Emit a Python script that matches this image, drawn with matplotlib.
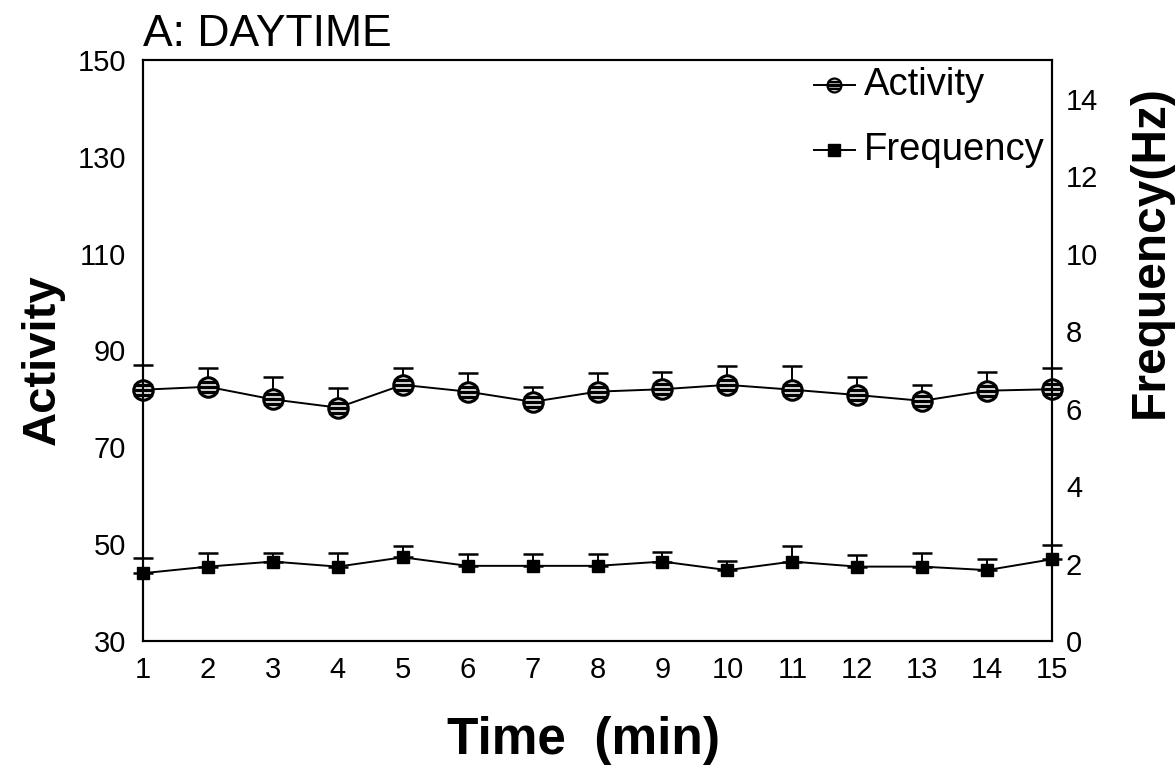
import numpy as np
import matplotlib
matplotlib.use("Agg")
import matplotlib.pyplot as plt

plt.rcParams['font.family'] = ['Liberation Sans', 'DejaVu Sans']

minutes = list(range(1, 16))
activity = [81.9, 82.5, 79.9, 78.2, 82.9, 81.5, 79.4, 81.5, 82.0, 82.9, 81.9, 80.8, 79.6, 81.7, 82.0]
activity_se = [5.1, 3.8, 4.7, 4.0, 3.4, 3.8, 3.1, 3.8, 3.5, 3.8, 4.8, 3.8, 3.3, 3.8, 4.3]
frequency = [1.75, 1.92, 2.05, 1.92, 2.16, 1.94, 1.94, 1.94, 2.05, 1.83, 2.05, 1.92, 1.92, 1.83, 2.11]
frequency_se = [0.38, 0.34, 0.23, 0.34, 0.29, 0.31, 0.31, 0.30, 0.25, 0.24, 0.40, 0.30, 0.36, 0.28, 0.37]

left_ticks = [30, 50, 70, 90, 110, 130, 150]
right_ticks = [0, 2, 4, 6, 8, 10, 12, 14]

fig = plt.figure(figsize=(11.76, 7.66), dpi=100)
ax = fig.add_axes([0.1216, 0.1632, 0.773, 0.7585])
ax2 = ax.twinx()

# activity on the left axis: hatched circles, upper error bars only
zeros = np.zeros(len(minutes))
ax.errorbar(minutes, activity, yerr=[zeros, activity_se], color='black', lw=1.4,
            capsize=7, capthick=1.8, elinewidth=1.4, fmt='none', clip_on=False, zorder=3)
ax.plot(minutes, activity, color='black', lw=1.4, marker='o', ms=14, mfc='white',
        mec='black', mew=2.2, clip_on=False, zorder=4)
ax.plot(minutes, activity, ls='none', marker=r'$\equiv$', ms=13, color='black',
        clip_on=False, zorder=5)

# frequency on the right axis: filled squares
ax2.errorbar(minutes, frequency, yerr=[zeros, frequency_se], color='black', lw=1.4,
             capsize=7, capthick=1.8, elinewidth=1.4, fmt='none', clip_on=False, zorder=3)
ax2.plot(minutes, frequency, color='black', lw=1.4, marker='s', ms=9,
         clip_on=False, zorder=4)

ax.set_xlim(1, 15)
ax.set_ylim(30, 150)
ax2.set_ylim(0, 15)
ax.set_xticks(minutes)
ax.set_yticks(left_ticks)
ax2.set_yticks(right_ticks)

ax.tick_params(axis='both', length=0, labelsize=21)
ax.tick_params(axis='x', pad=11)
ax.tick_params(axis='y', pad=12)
ax2.tick_params(axis='y', length=0, labelsize=21, pad=10)
for a in (ax, ax2):
    for s in a.spines.values():
        s.set_linewidth(1.5)

# legend drawn by hand in the upper right corner
lx = 0.768
for row, (label, y) in enumerate([("Activity", 0.957), ("Frequency", 0.845)]):
    ax.plot([lx - 0.03, lx + 0.015], [y, y], transform=ax.transAxes, color='black', lw=1.4,
            clip_on=False)
    if row == 0:
        ax.plot(lx - 0.008, y, transform=ax.transAxes, marker='o', ms=10, mfc='white',
                mec='black', mew=1.6)
        ax.plot(lx - 0.008, y, transform=ax.transAxes, marker=r'$\equiv$', ms=9, color='black')
    else:
        ax.plot(lx - 0.008, y, transform=ax.transAxes, marker='s', ms=8, color='black')
    ax.text(lx + 0.025, y, label, transform=ax.transAxes, fontsize=27.5, va='center', ha='left')

fig.text(0.122, 0.955, "A: DAYTIME", fontsize=32, ha='left', va='center')
fig.text(0.036, 0.53, "Activity", fontsize=34, fontweight='bold', rotation=90,
         ha='center', va='center')
fig.text(0.978, 0.672, "Frequency(Hz)", fontsize=34.5, fontweight='bold', rotation=90,
         ha='center', va='center')
fig.text(0.496, 0.033, "Time  (min)", fontsize=37, fontweight='bold', ha='center', va='center')

fig.savefig("out.png", dpi=100)
